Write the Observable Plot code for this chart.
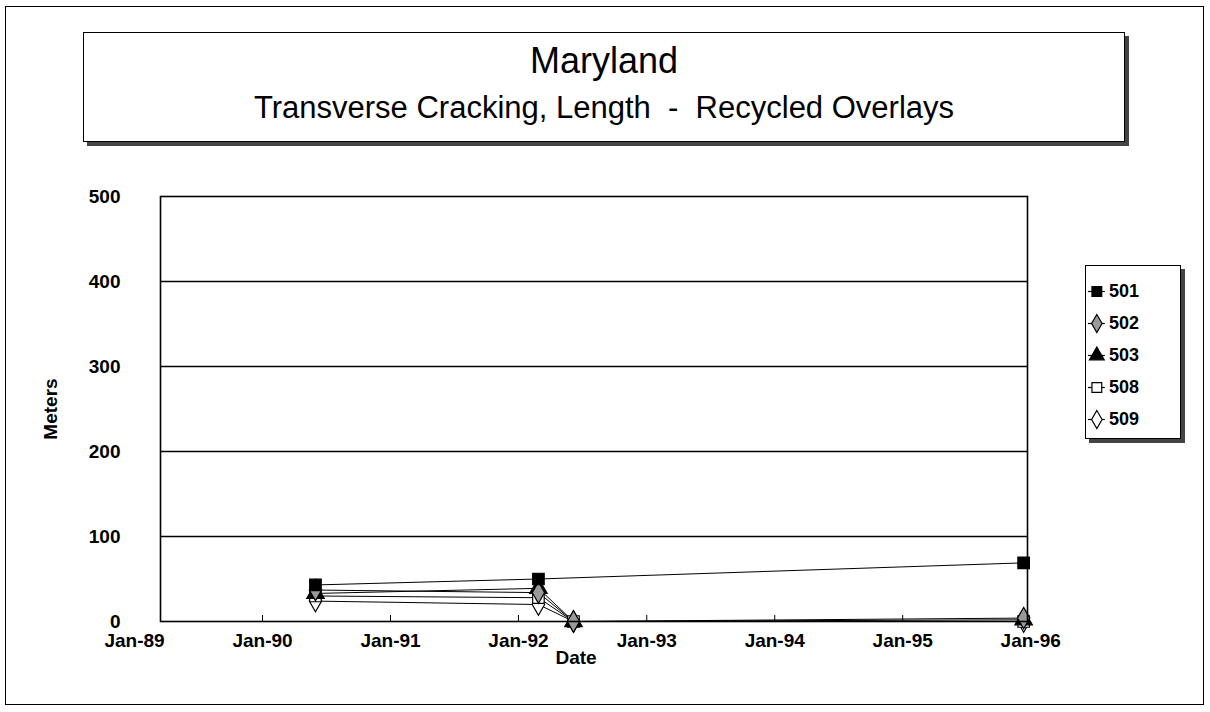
<!DOCTYPE html>
<html>
<head>
<meta charset="utf-8">
<script src="https://cdn.jsdelivr.net/npm/d3@7"></script>
<script src="https://cdn.jsdelivr.net/npm/@observablehq/plot@0.6"></script>
<style>
  html, body { margin: 0; padding: 0; background: #fff; }
  #wrap { position: relative; width: 1210px; height: 712px; overflow: hidden; font-family: "Liberation Sans", Arial, sans-serif; }
  #outer { position: absolute; left: 5px; top: 6px; width: 1197px; height: 697px; border: 1.5px solid #000; }
  #titlebox { position: absolute; left: 83px; top: 32px; width: 1040px; height: 108px; border: 1.5px solid #000; box-shadow: 4px 4px 0 #444; background: #fff; text-align: center; }
  #title { font-size: 36px; margin-top: 7px; line-height: 42px; }
  #subtitle { font-size: 31px; margin-top: 9px; line-height: 34px; }
  #chart { position: absolute; left: 0; top: 0; }
  #legend { position: absolute; left: 1085px; top: 265px; width: 94px; height: 172px; border: 1.5px solid #000; box-shadow: 4px 4px 0 #444; background: #fff; }
</style>
</head>
<body>
<div id="wrap">
  <div id="outer"></div>
  <div id="chart"></div>
  <div id="titlebox">
    <div id="title">Maryland</div>
    <div id="subtitle">Transverse Cracking, Length &nbsp;- &nbsp;Recycled Overlays</div>
  </div>
  <div id="legend"></div>
</div>
<script>
// ---- data ----
const surveyDates = ["1990-06-01", "1992-02-27", "1992-06-06", "1995-12-12"];
const seriesNames = ["501", "502", "503", "508", "509"];
const values501 = [43, 50, null, 69];
const values502 = [37, 34, 0, 4];
const values503 = [33, 39, 0, 2];
const values508 = [30, 28, 0, 0];
const values509 = [24, 20, 0, 0];
const yTicks = [0, 100, 200, 300, 400, 500];
const xTickYears = ["1989-01-01", "1990-01-01", "1991-01-01", "1992-01-01", "1993-01-01", "1994-01-01", "1995-01-01", "1996-01-01"];

// ---- styles ----
const seriesValues = [values501, values502, values503, values508, values509];
const symbols = ["square", "diamond", "triangle", "square", "diamond"];
const fills = ["#000", "#9a9a9a", "#000", "#fff", "#fff"];

const rows = [];
seriesNames.forEach((name, si) => {
  seriesValues[si].forEach((v, di) => {
    if (v != null) rows.push({series: name, date: new Date(surveyDates[di]), value: v});
  });
});

const font = '"Liberation Sans", Arial, sans-serif';
const tickDates = xTickYears.map(s => new Date(s));
const marks = [];
marks.push(Plot.ruleY([100, 200, 300, 400], {stroke: "#000", strokeWidth: 1.6}));
seriesNames.forEach((name, si) => {
  const d = rows.filter(r => r.series === name);
  marks.push(Plot.line(d, {x: "date", y: "value", stroke: "#000", strokeWidth: 1}));
});
seriesNames.slice().reverse().forEach((name) => {
  const si = seriesNames.indexOf(name);
  const d = rows.filter(r => r.series === name);
  marks.push(Plot.dot(d, {x: "date", y: "value", symbol: () => symbols[si], fill: fills[si], stroke: "#000", strokeWidth: 1.2, r: 6.5}));
});
marks.push(Plot.frame({stroke: "#000", strokeWidth: 1.6}));
// inward tick marks (only those inside the frame)
marks.push(Plot.axisX(tickDates.slice(1, -1), {tickSize: -6, tickFormat: () => "", label: null}));
// tick labels
marks.push(Plot.axisX(tickDates, {tickSize: 0, tickPadding: 12, tickFormat: d3.utcFormat("%b-%y"), fontSize: 19, label: null}));
marks.push(Plot.axisY(yTicks, {tickSize: 0, tickPadding: 40, fontSize: 19, label: null}));
marks.push(Plot.text(["Date"], {frameAnchor: "bottom", dy: 42, dx: -18, fontSize: 19, fontWeight: "bold"}));
marks.push(Plot.text(["Meters"], {y: [250], frameAnchor: "left", textAnchor: "middle", dx: -110, rotate: -90, fontSize: 19, fontWeight: "bold"}));

const chart = Plot.plot({
  width: 1210,
  height: 712,
  marginLeft: 160,
  marginRight: 183,
  marginTop: 196,
  marginBottom: 91,
  style: {fontFamily: font, fontSize: "19px", fontWeight: "bold", color: "#000", background: "transparent"},
  x: {type: "utc", domain: [new Date("1989-03-16"), new Date("1995-12-23")]},
  y: {domain: [0, 500]},
  symbol: {type: "identity"},
  marks
});
document.getElementById("chart").appendChild(chart);

// ---- legend ----
const legendMarks = [
  Plot.ruleY(seriesNames, {y: d => d, x1: 0.02, x2: 0.2, stroke: "#000", strokeWidth: 1.2})
];
seriesNames.forEach((name, si) => {
  legendMarks.push(Plot.dot([name], {x: 0.11, y: d => d, symbol: () => symbols[si], fill: fills[si], stroke: "#000", strokeWidth: 1.2, r: 5.5}));
});
legendMarks.push(Plot.text(seriesNames, {x: 0.24, y: d => d, text: d => d, textAnchor: "start", fontSize: 18, fontWeight: "bold"}));
const legend = Plot.plot({
  width: 94,
  height: 172,
  margin: 0,
  style: {fontFamily: font, color: "#000", background: "transparent"},
  x: {domain: [0, 1], axis: null},
  y: {type: "point", domain: seriesNames, range: [25, 153], padding: 0, axis: null},
  symbol: {type: "identity"},
  marks: legendMarks
});
document.getElementById("legend").appendChild(legend);
</script>
</body>
</html>
